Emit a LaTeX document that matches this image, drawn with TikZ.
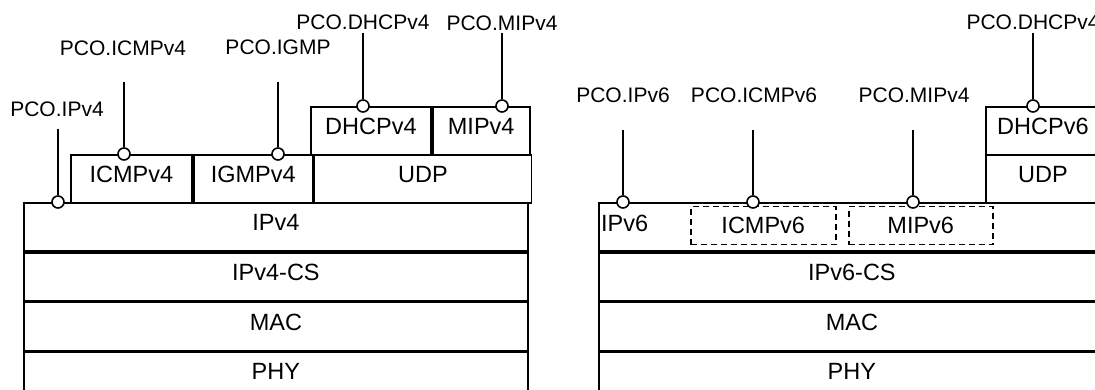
\documentclass[tikz,border=0pt]{standalone}
\usepackage{fontspec}
\setmainfont{Liberation Sans}
\tikzset{
    layer-box/.style = {draw, rectangle, line width=1.8pt, inner sep=0pt, anchor=north west, minimum height=48pt, text depth=9pt, font=\fontsize{23.5}{28}\selectfont},
    sub-box/.style = {draw, dashed, dash pattern=on 6pt off 4pt, line width=1.5pt, rectangle, inner sep=0pt, anchor=north west, minimum height=38pt, font=\fontsize{23.5}{28}\selectfont},
    pco-dot/.style = {draw, circle, fill=white, line width=1.6pt, inner sep=0pt, minimum size=12pt},
    pco-label/.style = {inner sep=0pt, font=\fontsize{21}{25}\selectfont},
    pco-line/.style = {line width=1.8pt},
}

\begin{document}
\begin{tikzpicture}[x=1pt, y=-1pt]
\useasboundingbox (0,0) rectangle (1095,390);
% IPv4 side
\node [layer-box, minimum width=504pt] (ipv4) at (23,202) {IPv4};
\node [layer-box, minimum width=504pt] (ipv4-cs) at (ipv4.south west) {IPv4-CS};
\node [layer-box, minimum width=504pt] (mac-4) at (ipv4-cs.south west) {MAC};
\node [layer-box, minimum width=504pt] (phy-4) at (mac-4.south west) {PHY};
\node [layer-box, minimum width=121pt] (icmpv4) at (70,154) {ICMPv4};
\node [layer-box, minimum width=119pt] (igmpv4) at (icmpv4.north east) {IGMPv4};
\node [layer-box, minimum width=217pt] (udp-4) at (igmpv4.north east) {UDP};
\node [layer-box, minimum width=120pt] (dhcpv4) at (310,106) {DHCPv4};
\node [layer-box, minimum width=97pt] (mipv4) at (dhcpv4.north east) {MIPv4};
% IPv6 side
\node [layer-box, minimum width=506pt] (ipv6) at (598,202) {};
\node [anchor=west, inner sep=0pt, text depth=7pt, font=\fontsize{23.5}{28}\selectfont] (ipv6-text) at ([xshift=3pt]ipv6.west) {IPv6};
\node [layer-box, minimum width=506pt] (ipv6-cs) at (ipv6.south west) {IPv6-CS};
\node [layer-box, minimum width=506pt] (mac-6) at (ipv6-cs.south west) {MAC};
\node [layer-box, minimum width=506pt] (phy-6) at (mac-6.south west) {PHY};
\node [sub-box, minimum width=145pt] (icmpv6) at (690,206) {ICMPv6};
\node [sub-box, minimum width=144pt] (mipv6) at (848,206) {MIPv6};
\node [layer-box, minimum width=114pt] (udp-6) at (985,154) {UDP};
\node [layer-box, minimum width=114pt] (dhcpv6) at (985,106) {DHCPv6};
% points of control and observation
\node [pco-label] (pco-ipv4) at (57,109) {PCO.IPv4};
\node [pco-label] (pco-icmpv4) at (123,48) {PCO.ICMPv4};
\node [pco-label] (pco-igmp) at (278,47) {PCO.IGMP};
\node [pco-label] (pco-dhcpv4) at (363,22) {PCO.DHCPv4};
\node [pco-label] (pco-mipv4) at (502,23) {PCO.MIPv4};
\node [pco-label] (pco-ipv6) at (623,95) {PCO.IPv6};
\node [pco-label] (pco-icmpv6) at (754,95) {PCO.ICMPv6};
\node [pco-label] (pco-mipv4-6) at (914,95) {PCO.MIPv4};
\node [pco-label] (pco-dhcpv4-6) at (1033,22) {PCO.DHCPv4};
\coordinate (pco-ipv4-end) at (58,129);
\coordinate (pco-icmpv4-end) at (124,82);
\coordinate (pco-igmp-end) at (278,82);
\coordinate (pco-dhcpv4-end) at (363,33);
\coordinate (pco-mipv4-end) at (502,33);
\coordinate (pco-ipv6-end) at (623,130);
\coordinate (pco-icmpv6-end) at (753,130);
\coordinate (pco-mipv4-6-end) at (913,130);
\coordinate (pco-dhcpv4-6-end) at (1033,33);
\node [pco-dot] (pco-ipv4-dot) at (58,202) {};
\node [pco-dot] (pco-icmpv4-dot) at (124,154) {};
\node [pco-dot] (pco-igmp-dot) at (278,154) {};
\node [pco-dot] (pco-dhcpv4-dot) at (363,106) {};
\node [pco-dot] (pco-mipv4-dot) at (502,106) {};
\node [pco-dot] (pco-ipv6-dot) at (623,202) {};
\node [pco-dot] (pco-icmpv6-dot) at (753,202) {};
\node [pco-dot] (pco-mipv4-6-dot) at (913,202) {};
\node [pco-dot] (pco-dhcpv4-6-dot) at (1033,106) {};
\draw [pco-line] (pco-ipv4-end) -- (pco-ipv4-dot);
\draw [pco-line] (pco-icmpv4-end) -- (pco-icmpv4-dot);
\draw [pco-line] (pco-igmp-end) -- (pco-igmp-dot);
\draw [pco-line] (pco-dhcpv4-end) -- (pco-dhcpv4-dot);
\draw [pco-line] (pco-mipv4-end) -- (pco-mipv4-dot);
\draw [pco-line] (pco-ipv6-end) -- (pco-ipv6-dot);
\draw [pco-line] (pco-icmpv6-end) -- (pco-icmpv6-dot);
\draw [pco-line] (pco-mipv4-6-end) -- (pco-mipv4-6-dot);
\draw [pco-line] (pco-dhcpv4-6-end) -- (pco-dhcpv4-6-dot);
\end{tikzpicture}
\end{document}
